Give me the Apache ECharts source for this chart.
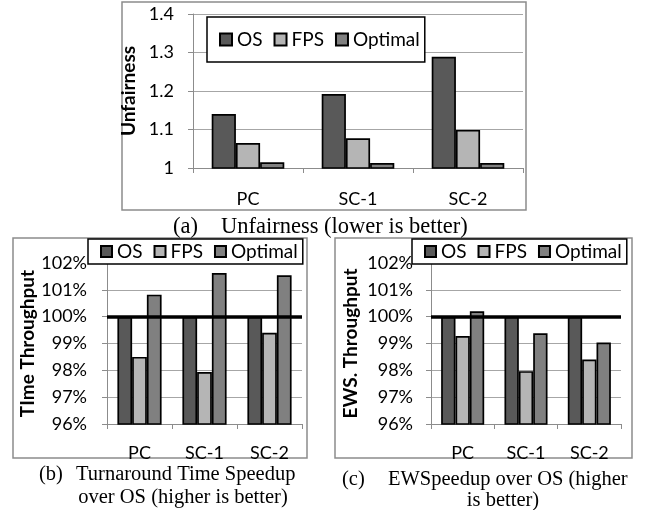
<!DOCTYPE html>
<html>
<head>
<meta charset="utf-8">
<script src="https://cdn.jsdelivr.net/npm/echarts@6/dist/echarts.min.js"></script>
<style>
  html, body { margin: 0; background: #fff; }
  #chart { width: 657px; height: 510px; }
</style>
</head>
<body>
<div id="chart"></div>
<script>
const categories = ['PC', 'SC-1', 'SC-2']
const seriesNames = ['OS', 'FPS', 'Optimal']

// (a) unfairness
const unfairOS = [1.14, 1.192, 1.289]
const unfairFPS = [1.065, 1.077, 1.099]
const unfairOpt = [1.015, 1.013, 1.013]
const unfairTicks = [1, 1.4, 0.1]

// (b) turnaround time throughput, %
const turnOS = [100, 100, 100]
const turnFPS = [98.5, 97.94, 99.4]
const turnOpt = [100.82, 101.63, 101.54]

// (c) EWS throughput, %
const ewsOS = [100, 100, 100]
const ewsFPS = [99.28, 97.97, 98.4]
const ewsOpt = [100.2, 99.38, 99.04]
const pctTicks = [96, 102, 1]
const baseline = 100

const colors = ['#595959', '#b5b5b5', '#808080']
const sans = 'Lato'
const serif = '"Liberation Serif", "Times New Roman", serif'

const grids = [
  { left: 193, right: 134, top: 14, bottom: 342 },
  { left: 107, right: 355, top: 263, bottom: 86 },
  { left: 431, right: 36, top: 263, bottom: 86 }
]

const xAxis = grids.map((g, i) => ({
  type: 'category',
  gridIndex: i,
  data: categories,
  axisLine: { lineStyle: { color: '#8c8c8c', width: 1 } },
  axisTick: { show: true, length: 5, lineStyle: { color: '#8c8c8c' } },
  axisLabel: { color: '#000', fontFamily: sans, fontSize: 18, margin: i === 0 ? 22 : 20 }
}))

const yAxisBase = (i, ticks, name, gap, fmt, margin) => ({
  type: 'value',
  gridIndex: i,
  min: ticks[0],
  max: ticks[1],
  interval: ticks[2],
  name: name,
  nameLocation: 'middle',
  nameGap: gap,
  nameTextStyle: { color: '#000', fontFamily: sans, fontSize: 19, fontWeight: 'bold' },
  axisLine: { show: true, lineStyle: { color: '#8c8c8c', width: 1 } },
  axisTick: { show: true, length: 5, lineStyle: { color: '#8c8c8c' } },
  splitLine: { lineStyle: { color: '#a6a6a6', width: 1 } },
  axisLabel: { color: '#000', fontFamily: sans, fontSize: 18, margin: margin, formatter: fmt }
})

const yAxis = [
  yAxisBase(0, unfairTicks, 'Unfairness', 46, v => String(Math.round(v * 10) / 10), 19),
  yAxisBase(1, pctTicks, 'TIme Throughput', 69, v => Math.round(v) + '%', 20),
  yAxisBase(2, pctTicks, 'EWS. Throughput', 71, v => Math.round(v) + '%', 18)
]

const chartData = [
  [unfairOS, unfairFPS, unfairOpt],
  [turnOS, turnFPS, turnOpt],
  [ewsOS, ewsFPS, ewsOpt]
]

const series = []
chartData.forEach((set, g) => {
  set.forEach((values, k) => {
    const s = {
      type: 'bar',
      name: seriesNames[k],
      xAxisIndex: g,
      yAxisIndex: g,
      data: values,
      barGap: '0%',
      barCategoryGap: g === 0 ? '34%' : '32%',
      itemStyle: { color: colors[k], borderColor: '#000', borderWidth: 1.7 }
    }
    if (g > 0 && k === 0) {
      s.markLine = {
        silent: true,
        symbol: 'none',
        label: { show: false },
        lineStyle: { color: '#000', width: 3.5, type: 'solid' },
        data: [{ yAxis: baseline }]
      }
    }
    series.push(s)
  })
})

const legendBase = {
  data: seriesNames,
  icon: 'rect',
  itemGap: 11,
  borderColor: '#000',
  borderWidth: 1.5,
  borderRadius: 0,
  backgroundColor: '#fff',
  textStyle: { color: '#000', fontFamily: sans, fontSize: 19 }
}
const legend = [
  Object.assign({}, legendBase, { left: 207, top: 17, itemWidth: 12, itemHeight: 12, padding: [13, 5, 13, 12] }),
  Object.assign({}, legendBase, { left: 88, top: 239, itemWidth: 11, itemHeight: 11, padding: [3, 5, 3, 12] }),
  Object.assign({}, legendBase, { left: 412, top: 239, itemWidth: 11, itemHeight: 11, padding: [3, 5, 3, 12] })
]

const frame = (x, y, w, h) => ({
  type: 'rect', silent: true, z: -1,
  shape: { x: x, y: y, width: w, height: h },
  style: { fill: 'none', stroke: '#8c8c8c', lineWidth: 1.5 }
})
const caption = (text, x, y, size, align) => ({
  type: 'text', silent: true, x: x, y: y,
  style: { text: text, font: size + 'px ' + serif, fill: '#000', align: align || 'left', verticalAlign: 'middle' }
})

const chart = echarts.init(document.getElementById('chart'))
chart.setOption({
  animation: false,
  grid: grids,
  xAxis: xAxis,
  yAxis: yAxis,
  legend: legend,
  series: series,
  graphic: [
    frame(122, 2, 404, 208),
    frame(13, 238, 294, 220),
    frame(335, 238, 297, 220),
    caption('(a)', 173, 227, 22.5),
    caption('Unfairness (lower is better)', 221, 227, 22.5),
    caption('(b)', 39, 475, 20.5),
    caption('Turnaround Time Speedup', 76, 475, 20.5),
    caption('over OS (higher is better)', 183, 498, 20.5, 'center'),
    caption('(c)', 342, 480, 20.5),
    caption('EWSpeedup over OS (higher', 388, 480, 20.5),
    caption('is better)', 503, 501, 20.5, 'center')
  ]
})
</script>
</body>
</html>
